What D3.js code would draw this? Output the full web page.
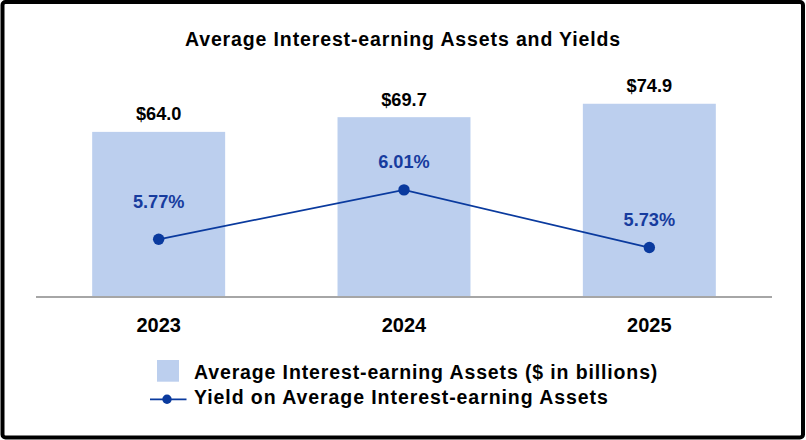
<!DOCTYPE html>
<html><head><meta charset="utf-8">
<script src="https://cdn.jsdelivr.net/npm/d3@7"></script>
<style>body{margin:0;background:#fff}svg{display:block}text{font-family:Arial,"Liberation Sans",sans-serif}</style>
</head><body><svg id="c" width="806" height="440"></svg>
<script>
const title = "Average Interest-earning Assets and Yields";
const years = ["2023", "2024", "2025"];
const assets = [64.0, 69.7, 74.9];
const assetLabels = ["$64.0", "$69.7", "$74.9"];
const yields = [5.77, 6.01, 5.73];
const yieldLabels = ["5.77%", "6.01%", "5.73%"];
const legendNames = ["Average Interest-earning Assets ($ in billions)", "Yield on Average Interest-earning Assets"];

const barColor = "#bccfee", lineColor = "#0a3a9e", labelBlue = "#173c9e";
const svg = d3.select("#c");
svg.append("rect").attr("x",2.5).attr("y",2).attr("width",800.5).attr("height",435.5)
  .attr("rx",3).attr("fill","#fff").attr("stroke","#000").attr("stroke-width",4);

const x = d3.scaleBand().domain(years).range([36, 772]).paddingInner(0.458).paddingOuter(0.229);
const y = d3.scaleLinear().domain([0, 80]).range([297, 90.6]);
const y2 = d3.scaleLinear().domain([5.49, 6.49]).range([297, 91]);

svg.append("text").attr("x",403).attr("y",45.5).attr("text-anchor","middle")
  .attr("font-size",19.5).attr("font-weight","bold").attr("letter-spacing",0.87).text(title);

svg.selectAll(".bar").data(assets).join("rect")
  .attr("x",(d,i)=>x(years[i])).attr("width",x.bandwidth())
  .attr("y",d=>y(d)).attr("height",d=>y(0)-y(d)).attr("fill",barColor);

svg.selectAll(".bl").data(assets).join("text")
  .attr("x",(d,i)=>x(years[i])+x.bandwidth()/2).attr("y",d=>y(d)-11.5)
  .attr("text-anchor","middle").attr("font-size",18.2).attr("font-weight","bold")
  .text((d,i)=>assetLabels[i]);

svg.append("line").attr("x1",36).attr("x2",772).attr("y1",297).attr("y2",297)
  .attr("stroke","#a6a6a6").attr("stroke-width",2);

const xAxis = d3.axisBottom(x).tickSize(0).tickPadding(0);
const ax = svg.append("g").attr("transform","translate(0,317)").call(xAxis);
ax.select(".domain").remove();
ax.selectAll("text").attr("font-size",20).attr("font-weight","bold").attr("fill","#000")
  .attr("font-family","Arial, 'Liberation Sans', sans-serif").attr("dy","0.75em");

const cx = (d,i)=>x(years[i])+x.bandwidth()/2;
const line = d3.line().x((d,i)=>cx(d,i)).y(d=>y2(d));
svg.append("path").datum(yields).attr("d",line).attr("fill","none")
  .attr("stroke",lineColor).attr("stroke-width",1.8);
svg.selectAll(".pt").data(yields).join("circle")
  .attr("cx",cx).attr("cy",d=>y2(d)).attr("r",5.7).attr("fill",lineColor);
const yOff = [31, 22, 22];
svg.selectAll(".yl").data(yields).join("text")
  .attr("x",cx).attr("y",(d,i)=>y2(d)-yOff[i])
  .attr("text-anchor","middle").attr("font-size",18.2).attr("font-weight","bold")
  .attr("fill",labelBlue).text((d,i)=>yieldLabels[i]);

const lg = svg.append("g");
lg.append("rect").attr("x",157).attr("y",360).attr("width",22).attr("height",21.7).attr("fill",barColor);
lg.append("text").attr("x",194).attr("y",379.3).attr("font-size",19.5).attr("font-weight","bold")
  .attr("letter-spacing",0.87).text(legendNames[0]);
lg.append("line").attr("x1",150).attr("x2",186.5).attr("y1",399.3).attr("y2",399.3).attr("stroke",lineColor).attr("stroke-width",1.8);
lg.append("circle").attr("cx",167).attr("cy",399.3).attr("r",4.7).attr("fill",lineColor);
lg.append("text").attr("x",194).attr("y",404).attr("font-size",19.5).attr("font-weight","bold")
  .attr("letter-spacing",0.93).text(legendNames[1]);
</script></body></html>
